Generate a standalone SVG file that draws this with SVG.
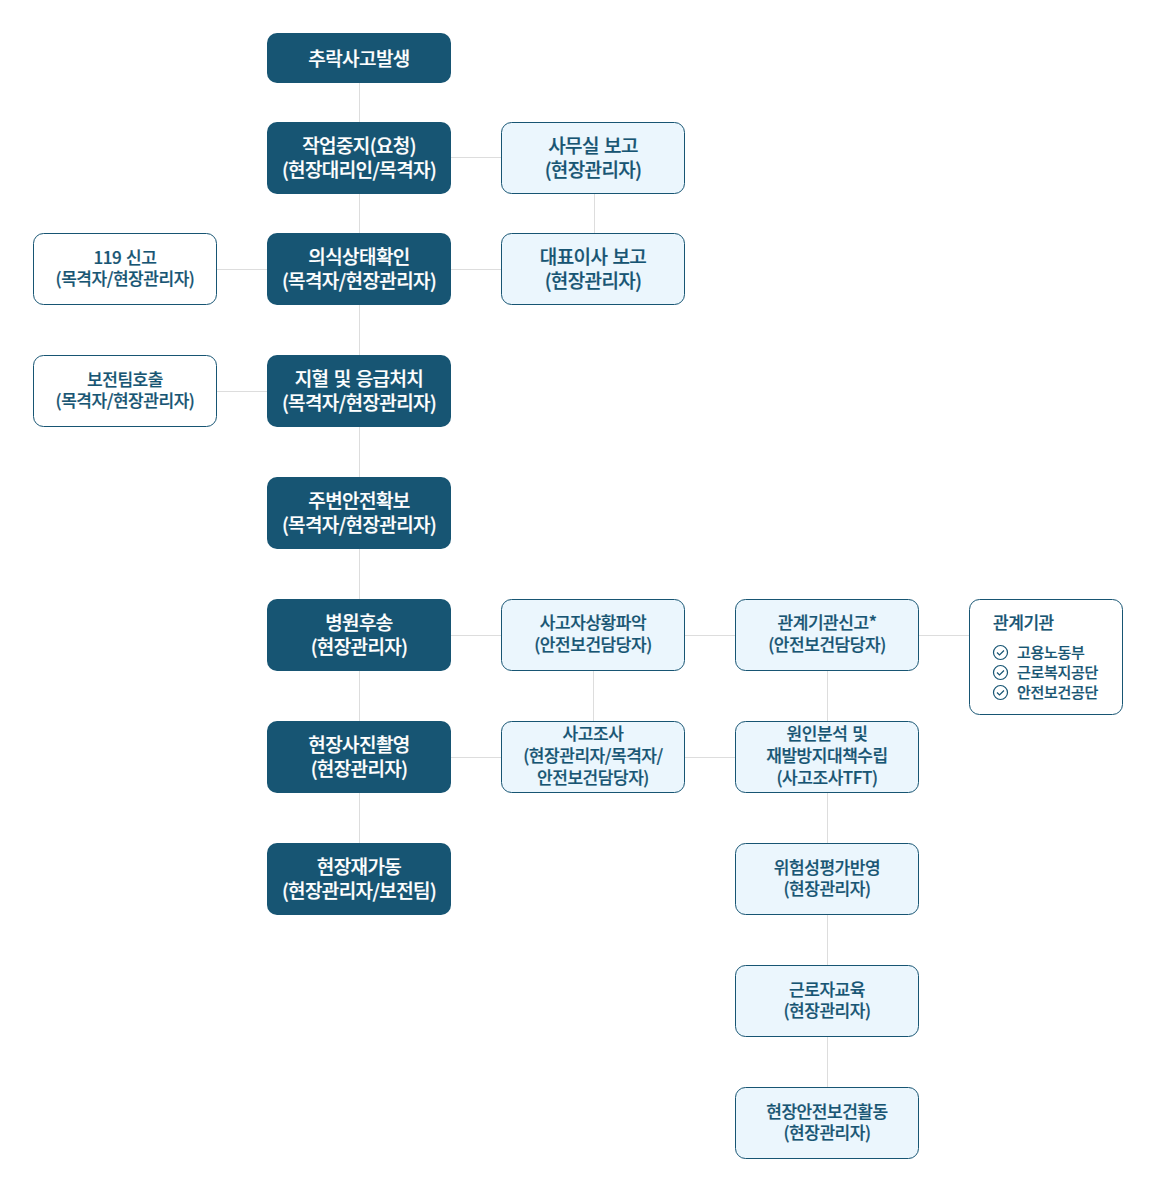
<svg xmlns="http://www.w3.org/2000/svg" width="1160" height="1191" viewBox="0 0 1160 1191">
<style>
text{font-family:"Noto Sans CJK KR","Noto Sans",sans-serif;font-weight:500;text-anchor:middle;word-spacing:1.5px;stroke-width:.22px}
.d rect{fill:#175573}
.d text{fill:#fff;stroke:#fff;font-size:19px;letter-spacing:-.6px}
.l rect{fill:#ebf6fd;stroke:#175573;stroke-width:1}
.w rect{fill:#fff;stroke:#175573;stroke-width:1}
.l text,.w text{fill:#175573;stroke:#175573;font-size:17px;letter-spacing:-.45px}
.l.b text{font-size:19px;letter-spacing:-.6px}
#connectors path{fill:none;stroke:#ddd;stroke-width:1}
.c{fill:none;stroke:#175573;stroke-width:1.2}
#org text.s{font-size:15px;text-anchor:start;letter-spacing:-.3px}
#org text.t{font-size:17px;text-anchor:start}
</style>
<g id="connectors">
<path d="M359.500 83V843M451 157.500H501M451 269.500H501M217 269.500H267M217 391.500H267M594.500 194V233M451 635.500H501M685 635.500H735M919 635.500H969M593.500 671V721M451 757.500H501M685 757.500H735M827.500 671V721M827.500 793V843M827.500 915V965M827.500 1037V1087"/>
</g>
<g id="n1" class="d"><rect x="267" y="33" width="184" height="50" rx="10"/><text x="359" y="65.500">추락사고발생</text></g>
<g id="n2" class="d"><rect x="267" y="122" width="184" height="72" rx="10"/><text x="359" y="152.500">작업중지(요청)</text><text x="359" y="177">(현장대리인/목격자)</text></g>
<g id="n3" class="d"><rect x="267" y="233" width="184" height="72" rx="10"/><text x="359" y="263.500">의식상태확인</text><text x="359" y="288">(목격자/현장관리자)</text></g>
<g id="n4" class="d"><rect x="267" y="355" width="184" height="72" rx="10"/><text x="359" y="385.500">지혈 및 응급처치</text><text x="359" y="410">(목격자/현장관리자)</text></g>
<g id="n5" class="d"><rect x="267" y="477" width="184" height="72" rx="10"/><text x="359" y="507.500">주변안전확보</text><text x="359" y="532">(목격자/현장관리자)</text></g>
<g id="n6" class="d"><rect x="267" y="599" width="184" height="72" rx="10"/><text x="359" y="629.500">병원후송</text><text x="359" y="654">(현장관리자)</text></g>
<g id="n7" class="d"><rect x="267" y="721" width="184" height="72" rx="10"/><text x="359" y="751.500">현장사진촬영</text><text x="359" y="776">(현장관리자)</text></g>
<g id="n8" class="d"><rect x="267" y="843" width="184" height="72" rx="10"/><text x="359" y="873.500">현장재가동</text><text x="359" y="898">(현장관리자/보전팀)</text></g>
<g id="n9" class="l b"><rect x="501.500" y="122.500" width="183" height="71" rx="10"/><text x="593" y="152.500">사무실 보고</text><text x="593" y="177">(현장관리자)</text></g>
<g id="n10" class="l b"><rect x="501.500" y="233.500" width="183" height="71" rx="10"/><text x="593" y="263.500">대표이사 보고</text><text x="593" y="288">(현장관리자)</text></g>
<g id="n11" class="w"><rect x="33.500" y="233.500" width="183" height="71" rx="10"/><text x="125" y="263.500">119 신고</text><text x="125" y="285">(목격자/현장관리자)</text></g>
<g id="n12" class="w"><rect x="33.500" y="355.500" width="183" height="71" rx="10"/><text x="125" y="385.500">보전팀호출</text><text x="125" y="407">(목격자/현장관리자)</text></g>
<g id="n13" class="l"><rect x="501.500" y="599.500" width="183" height="71" rx="10"/><text x="593" y="628.500">사고자상황파악</text><text x="593" y="651">(안전보건담당자)</text></g>
<g id="n14" class="l"><rect x="735.500" y="599.500" width="183" height="71" rx="10"/><text x="827" y="628.500">관계기관신고*</text><text x="827" y="651">(안전보건담당자)</text></g>
<g id="n15" class="l"><rect x="501.500" y="721.500" width="183" height="71" rx="10"/><text x="593" y="740">사고조사</text><text x="593" y="762">(현장관리자/목격자/</text><text x="593" y="784">안전보건담당자)</text></g>
<g id="n16" class="l"><rect x="735.500" y="721.500" width="183" height="71" rx="10"/><text x="827" y="740">원인분석 및</text><text x="827" y="762">재발방지대책수립</text><text x="827" y="784">(사고조사TFT)</text></g>
<g id="n17" class="l"><rect x="735.500" y="843.500" width="183" height="71" rx="10"/><text x="827" y="873.500">위험성평가반영</text><text x="827" y="895">(현장관리자)</text></g>
<g id="n18" class="l"><rect x="735.500" y="965.500" width="183" height="71" rx="10"/><text x="827" y="995.500">근로자교육</text><text x="827" y="1017">(현장관리자)</text></g>
<g id="n19" class="l"><rect x="735.500" y="1087.500" width="183" height="71" rx="10"/><text x="827" y="1117.500">현장안전보건활동</text><text x="827" y="1139">(현장관리자)</text></g>
<g id="org" class="w"><rect x="969.500" y="599.500" width="153" height="115" rx="10"/>
<text class="t" x="993" y="628.500">관계기관</text>
<circle class="c" cx="1000.500" cy="652.500" r="7"/><path class="c" d="M997 652.500l2.500 2.500 4.500-4.500"/><text class="s" x="1017" y="658">고용노동부</text>
<circle class="c" cx="1000.500" cy="672.500" r="7"/><path class="c" d="M997 672.500l2.500 2.500 4.500-4.500"/><text class="s" x="1017" y="678">근로복지공단</text>
<circle class="c" cx="1000.500" cy="692.500" r="7"/><path class="c" d="M997 692.500l2.500 2.500 4.500-4.500"/><text class="s" x="1017" y="698">안전보건공단</text>
</g>
</svg>
